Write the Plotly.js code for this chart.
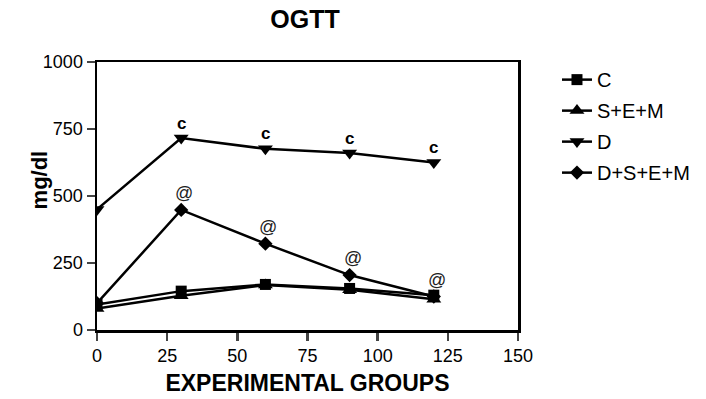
<!DOCTYPE html>
<html>
<head>
<meta charset="utf-8">
<script src="https://cdn.plot.ly/plotly-3.0.1.min.js"></script>
<style>html,body{margin:0;padding:0;background:#fff;}#chart{width:706px;height:399px;}</style>
</head>
<body>
<div id="chart"></div>
<script>
const timePoints = [0, 30, 60, 90, 120];
const seriesNames = ["C", "S+E+M", "D", "D+S+E+M"];
const valuesC = [95, 145, 170, 155, 130];
const valuesSEM = [80, 128, 168, 150, 115];
const valuesD = [450, 716, 676, 660, 625];
const valuesDSEM = [100, 448, 322, 205, 125];
const labelD = ["", "c", "c", "c", "c"];
const labelDSEM = ["", "@", "@", "@", "@"];
const xTicks = [0, 25, 50, 75, 100, 125, 150];
const yTicks = [0, 250, 500, 750, 1000];

const symbols = ["square", "triangle-up", "triangle-down", "diamond"];
const markerSizes = [11, 13, 13, 11];
const allValues = [valuesC, valuesSEM, valuesD, valuesDSEM];

const traces = allValues.map((vals, i) => ({
  x: timePoints, y: vals, name: seriesNames[i], type: "scatter", mode: "lines+markers",
  legendgroup: "g" + i,
  line: {color: "#000", width: 2.5},
  marker: {symbol: symbols[i], size: markerSizes[i], color: "#000"}
}));

const fontFam = "Liberation Sans, Arial, sans-serif";
const annotations = [];
timePoints.forEach((t, i) => {
  if (labelD[i]) annotations.push({x: t, y: valuesD[i], text: "<b>" + labelD[i] + "</b>", showarrow: false, yshift: 15,
    font: {family: fontFam, size: 17, color: "#000"}});
  if (labelDSEM[i]) annotations.push({x: t, y: valuesDSEM[i], text: labelDSEM[i], showarrow: false, yshift: 17, xshift: 3,
    font: {family: fontFam, size: 18, color: "#222"}});
});
annotations.push({xref: "paper", yref: "paper", x: -0.171, y: 0.56, textangle: -90, showarrow: false,
  text: "<b>mg/dl</b>", font: {family: fontFam, size: 22, color: "#000"}});

const layout = {
  width: 706, height: 399,
  margin: {l: 97, r: 187, t: 62, b: 69},
  paper_bgcolor: "#fff", plot_bgcolor: "#fff",
  font: {family: fontFam, color: "#000", size: 18},
  title: {text: "<b>OGTT</b>", x: 0.432, xanchor: "center", y: 0.952, yanchor: "middle", font: {size: 25}},
  showlegend: true,
  legend: {x: 1.09, y: 1.007, xanchor: "left", yanchor: "top", traceorder: "grouped", tracegroupgap: 2,
    font: {size: 20}, bgcolor: "rgba(0,0,0,0)"},
  xaxis: {range: [0, 150], tickvals: xTicks, ticks: "outside", ticklen: 8, tickwidth: 2.5,
    showline: true, linewidth: 2.5, linecolor: "#000", mirror: true, showgrid: false, zeroline: false,
    tickfont: {size: 18},
    title: {text: "<b>EXPERIMENTAL GROUPS</b>", font: {size: 23}, standoff: 10}},
  yaxis: {range: [0, 1000], tickvals: yTicks, ticks: "outside", ticklen: 8, tickwidth: 2.5,
    showline: true, linewidth: 2.5, linecolor: "#000", mirror: true, showgrid: false, zeroline: false,
    tickfont: {size: 18}},
  annotations: annotations
};

Plotly.newPlot("chart", traces, layout, {displayModeBar: false, staticPlot: true});
</script>
</body>
</html>
